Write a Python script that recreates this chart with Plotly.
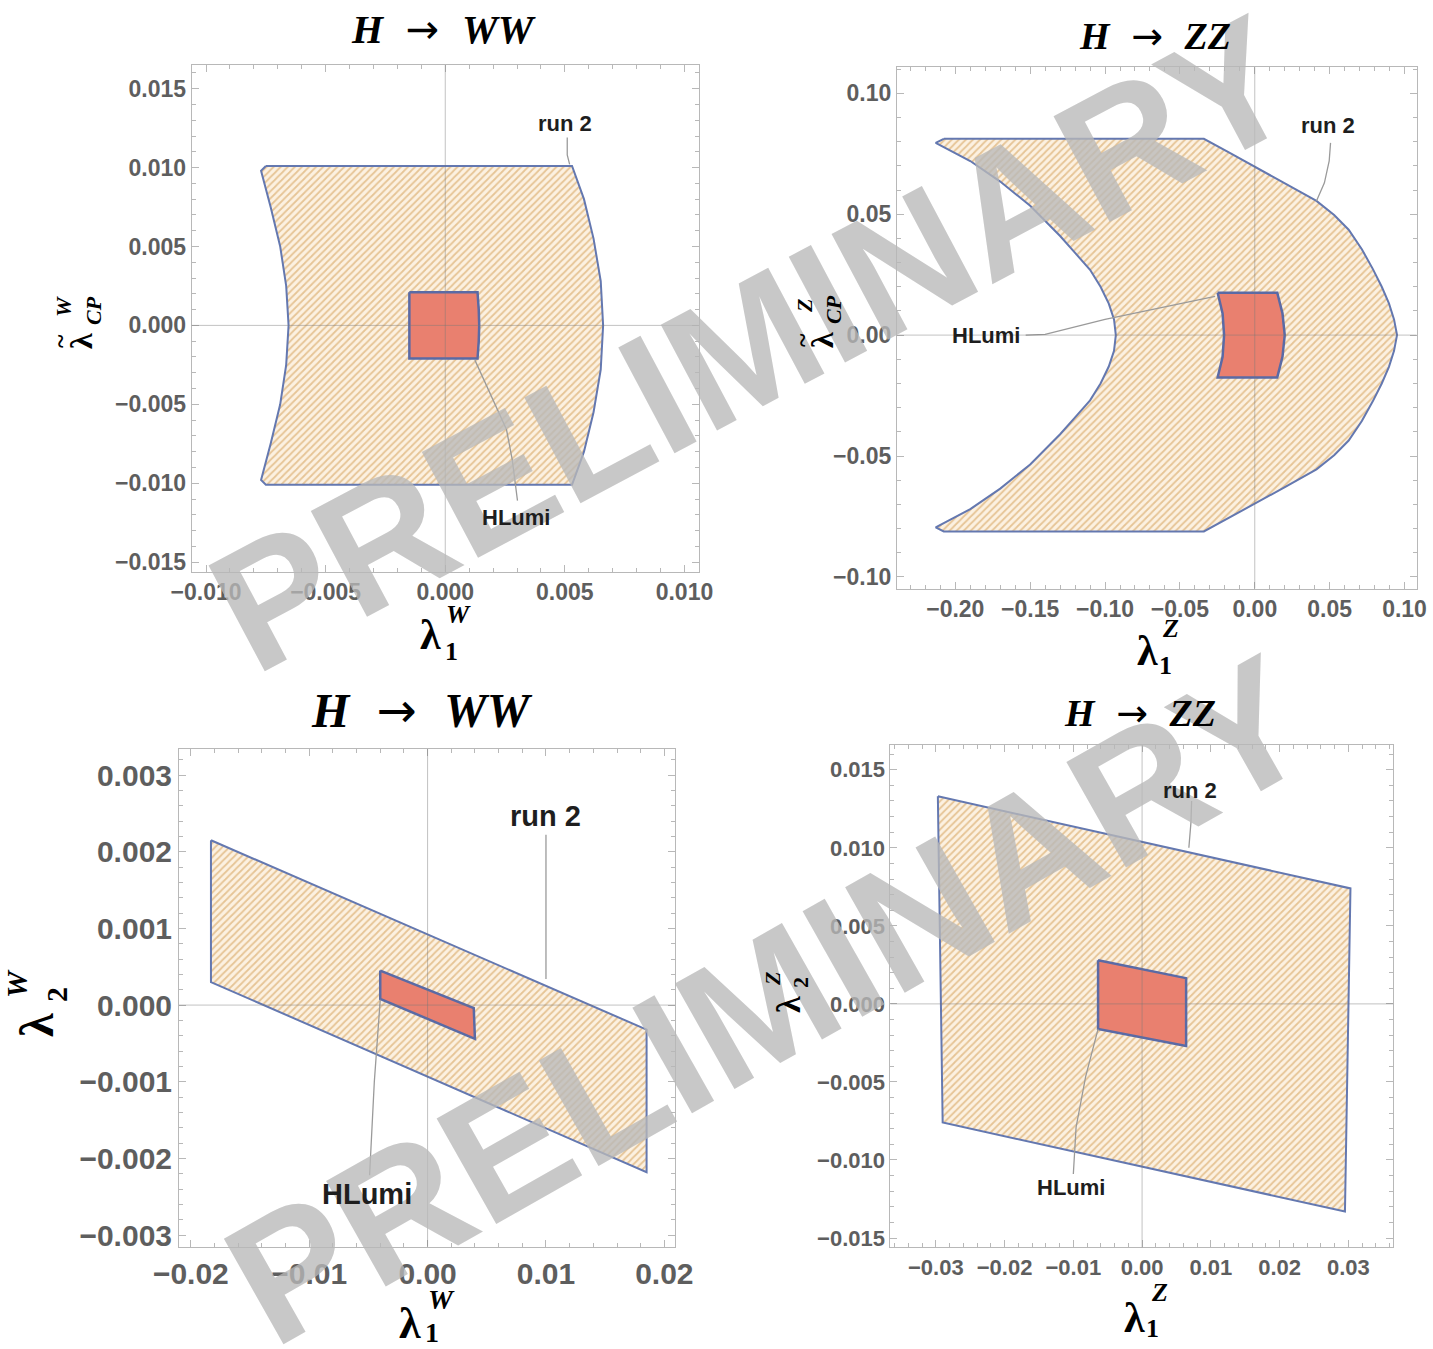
import plotly.graph_objects as go

FIG_W, FIG_H = 1433, 1349

# ---------------- data ----------------
# Panel 1: H -> WW, lambda1^W vs lambda~_CP^W
p1_run2_x = [-0.0075, 0.0053, 0.0058, 0.0062, 0.0065, 0.0066, 0.0065, 0.0062, 0.0058, 0.0053,
             -0.0075, -0.0077, -0.0073, -0.0069, -0.00665, -0.00655, -0.00665, -0.0069, -0.0073, -0.0077]
p1_run2_y = [0.0101, 0.0101, 0.0080, 0.0055, 0.0028, 0.0, -0.0028, -0.0055, -0.0080, -0.0101,
             -0.0101, -0.0098, -0.0075, -0.0050, -0.0025, 0.0, 0.0025, 0.0050, 0.0075, 0.0098]
p1_hl_x = [-0.0015, 0.00135, 0.0014, 0.00142, 0.0014, 0.00135, -0.0015]
p1_hl_y = [0.0021, 0.0021, 0.0010, 0.0, -0.0010, -0.0021, -0.0021]
p1_run2_lbl = (0.0050, 0.0128)
p1_run2_call_x = [0.0051, 0.0051, 0.0052]
p1_run2_call_y = [0.0119, 0.0108, 0.0102]
p1_hl_lbl = (0.00297, -0.0122)
p1_hl_call_x = [0.00124, 0.00182, 0.00256, 0.0028, 0.00302]
p1_hl_call_y = [-0.0022, -0.00412, -0.0066, -0.0085, -0.0111]

# Panel 2: H -> ZZ, lambda1^Z vs lambda~_CP^Z
p2_run2_x = [-0.2077, -0.034, -0.017, 0.0, 0.021, 0.0412, 0.053, 0.0627, 0.0715, 0.0788, 0.0848,
             0.0896, 0.093, 0.095,
             0.093, 0.0896, 0.0848, 0.0788, 0.0715, 0.0627, 0.053, 0.0412, 0.021, 0.0, -0.017,
             -0.034, -0.2077,
             -0.2131, -0.19, -0.17, -0.15, -0.13, -0.12, -0.110, -0.103, -0.0975, -0.094, -0.0928,
             -0.094, -0.0975, -0.103, -0.110, -0.12, -0.13, -0.15, -0.17, -0.19, -0.2131]
p2_run2_y = [0.0812, 0.0812, 0.0755, 0.0697, 0.0626, 0.0555, 0.0497, 0.0436, 0.0355, 0.0274, 0.0200,
             0.0131, 0.0065, 0.0,
             -0.0065, -0.0131, -0.0200, -0.0274, -0.0355, -0.0436, -0.0497, -0.0555, -0.0626, -0.0697,
             -0.0755, -0.0812, -0.0812,
             -0.0795, -0.072, -0.0635, -0.0535, -0.041, -0.034, -0.027, -0.020, -0.013, -0.0065, 0.0,
             0.0065, 0.013, 0.020, 0.027, 0.034, 0.041, 0.0535, 0.0635, 0.072, 0.0795]
p2_hl_x = [-0.0248, 0.0150, 0.0185, 0.0200, 0.0185, 0.0150, -0.0248, -0.0215, -0.0205, -0.0215]
p2_hl_y = [0.0175, 0.0175, 0.009, 0.0, -0.009, -0.0175, -0.0175, -0.009, 0.0, 0.009]
p2_run2_lbl = (0.0492, 0.0866)
p2_run2_call_x = [0.0506, 0.0497, 0.0465, 0.0412]
p2_run2_call_y = [0.0795, 0.0720, 0.0630, 0.0555]
p2_hl_lbl = (-0.1795, 0.0)
p2_hl_call_x = [-0.153, -0.140, -0.100, -0.060, -0.0265]
p2_hl_call_y = [0.0, 0.0003, 0.0065, 0.0115, 0.0160]

# Panel 3: H -> WW, lambda1^W vs lambda2^W
p3_run2_x = [-0.0183, 0.0185, 0.0185, -0.0183]
p3_run2_y = [0.00215, -0.00032, -0.00218, 0.0003]
p3_hl_x = [-0.0040, 0.0039, 0.0040, -0.0040]
p3_hl_y = [0.00045, -0.00004, -0.00044, 0.00008]
p3_run2_lbl = (0.0100, 0.00246)
p3_run2_call_x = [0.0100, 0.0100]
p3_run2_call_y = [0.00222, 0.00034]
p3_hl_lbl = (-0.0051, -0.00246)
p3_hl_call_x = [-0.0040, -0.0045, -0.0049]
p3_hl_call_y = [0.00007, -0.0010, -0.00222]

# Panel 4: H -> ZZ, lambda1^Z vs lambda2^Z
p4_run2_x = [-0.0297, 0.0303, 0.0295, -0.0290]
p4_run2_y = [0.0133, 0.0074, -0.0133, -0.0076]
p4_hl_x = [-0.0064, 0.0064, 0.0064, -0.0064]
p4_hl_y = [0.0028, 0.00165, -0.0027, -0.0016]
p4_run2_lbl = (0.0070, 0.0137)
p4_run2_call_x = [0.0072, 0.0071, 0.0068]
p4_run2_call_y = [0.0130, 0.0116, 0.0100]
p4_hl_lbl = (-0.0103, -0.01175)
p4_hl_call_x = [-0.0064, -0.0082, -0.0096, -0.0100]
p4_hl_call_y = [-0.0016, -0.00464, -0.0079, -0.0109]

# axis ticks
p1_xticks = [-0.010, -0.005, 0.0, 0.005, 0.010]
p1_yticks = [-0.015, -0.010, -0.005, 0.0, 0.005, 0.010, 0.015]
p2_xticks = [-0.20, -0.15, -0.10, -0.05, 0.0, 0.05, 0.10]
p2_yticks = [-0.10, -0.05, 0.0, 0.05, 0.10]
p3_xticks = [-0.02, -0.01, 0.0, 0.01, 0.02]
p3_yticks = [-0.003, -0.002, -0.001, 0.0, 0.001, 0.002, 0.003]
p4_xticks = [-0.03, -0.02, -0.01, 0.0, 0.01, 0.02, 0.03]
p4_yticks = [-0.015, -0.010, -0.005, 0.0, 0.005, 0.010, 0.015]

# ---------------- styling ----------------
RUN2_LINE = "#6478b0"
HL_FILL = "#e9806f"
HL_LINE = "#5a6aa5"
FRAME = "#b8b8b8"
TICKTXT = "#5e5e5e"
CALLOUT = "#9a9a9a"
SANS = "Liberation Sans"
SERIF = "Liberation Serif"
HATCH_BG = "#fcf1e1"
HATCH_FG = "#e6c495"


def px(xp):
    return xp / FIG_W


def py(yp):
    return 1 - yp / FIG_H


panels = [
    dict(box=(191.7, 65, 698.8, 571.6), xr=[-0.0106, 0.0106], yr=[-0.0156, 0.0165],
         xt=p1_xticks, yt=p1_yticks, xf=".3f", yf=".3f", xminor=0.001, yminor=0.001, fs=23,
         run2=(p1_run2_x, p1_run2_y), hl=(p1_hl_x, p1_hl_y),
         r2lbl=p1_run2_lbl, r2call=(p1_run2_call_x, p1_run2_call_y),
         hllbl=p1_hl_lbl, hlcall=(p1_hl_call_x, p1_hl_call_y), lfs=22),
    dict(box=(896.9, 67.2, 1416.5, 588.5), xr=[-0.239, 0.108], yr=[-0.1048, 0.1108],
         xt=p2_xticks, yt=p2_yticks, xf=".2f", yf=".2f", xminor=0.01, yminor=0.01, fs=23,
         run2=(p2_run2_x, p2_run2_y), hl=(p2_hl_x, p2_hl_y),
         r2lbl=p2_run2_lbl, r2call=(p2_run2_call_x, p2_run2_call_y),
         hllbl=p2_hl_lbl, hlcall=(p2_hl_call_x, p2_hl_call_y), lfs=22),
    dict(box=(179, 749, 675, 1246.6), xr=[-0.021, 0.0209], yr=[-0.00315, 0.00334],
         xt=p3_xticks, yt=p3_yticks, xf=".2f", yf=".3f", xminor=0.002, yminor=0.0002, fs=30,
         run2=(p3_run2_x, p3_run2_y), hl=(p3_hl_x, p3_hl_y),
         r2lbl=p3_run2_lbl, r2call=(p3_run2_call_x, p3_run2_call_y),
         hllbl=p3_hl_lbl, hlcall=(p3_hl_call_x, p3_hl_call_y), lfs=29),
    dict(box=(890.4, 744.8, 1393.1, 1247.4), xr=[-0.0366, 0.0365], yr=[-0.0156, 0.0166],
         xt=p4_xticks, yt=p4_yticks, xf=".2f", yf=".3f", xminor=0.002, yminor=0.001, fs=22,
         run2=(p4_run2_x, p4_run2_y), hl=(p4_hl_x, p4_hl_y),
         r2lbl=p4_run2_lbl, r2call=(p4_run2_call_x, p4_run2_call_y),
         hllbl=p4_hl_lbl, hlcall=(p4_hl_call_x, p4_hl_call_y), lfs=22),
]

fig = go.Figure()
layout = dict(template="none", width=FIG_W, height=FIG_H, autosize=False,
              margin=dict(l=0, r=0, t=0, b=0, pad=0, autoexpand=False),
              paper_bgcolor="white", plot_bgcolor="white", showlegend=False)
shapes = []
annotations = []

# watermark first so labels are drawn above it
for xc, yc, ang, sz in ((752, 343, -28, 174), (768, 1000, -29.5, 176)):
    annotations.append(dict(text="<b>PRELIMINARY</b>", x=px(xc), y=py(yc), xref="paper",
                            yref="paper", showarrow=False, xanchor="center", yanchor="middle",
                            textangle=ang,
                            font=dict(family=SANS, size=sz, color="rgba(185,185,185,0.78)")))

for i, p in enumerate(panels, start=1):
    l, t, r, b = p["box"]
    xa = "xaxis" if i == 1 else f"xaxis{i}"
    ya = "yaxis" if i == 1 else f"yaxis{i}"
    xref = "x" if i == 1 else f"x{i}"
    yref = "y" if i == 1 else f"y{i}"
    common = dict(showline=True, linecolor=FRAME, linewidth=1, mirror="allticks",
                  ticks="inside", ticklen=7, tickwidth=1, tickcolor=FRAME,
                  showgrid=False, zeroline=False, automargin=False,
                  tickfont=dict(family=SANS, size=p["fs"], color=TICKTXT, weight="bold"),
                  fixedrange=True)
    layout[xa] = dict(domain=[px(l), px(r)], anchor=yref, range=p["xr"],
                      tickvals=p["xt"], tickformat=p["xf"],
                      minor=dict(ticks="inside", ticklen=4, dtick=p["xminor"], tickcolor=FRAME,
                                 showgrid=False),
                      **common)
    layout[ya] = dict(domain=[py(b), py(t)], anchor=xref, range=p["yr"],
                      tickvals=p["yt"], tickformat=p["yf"],
                      minor=dict(ticks="inside", ticklen=4, dtick=p["yminor"], tickcolor=FRAME,
                                 showgrid=False),
                      **common)
    rx, ry = p["run2"]
    fig.add_trace(go.Scatter(x=rx + [rx[0]], y=ry + [ry[0]], xaxis=xref, yaxis=yref,
                             mode="lines", fill="toself", fillcolor=HATCH_BG,
                             fillpattern=dict(shape="/", bgcolor=HATCH_BG, fgcolor=HATCH_FG,
                                              size=5, solidity=0.35),
                             line=dict(color=RUN2_LINE, width=2), hoverinfo="skip"))
    hx, hy = p["hl"]
    fig.add_trace(go.Scatter(x=hx + [hx[0]], y=hy + [hy[0]], xaxis=xref, yaxis=yref,
                             mode="lines", fill="toself", fillcolor=HL_FILL,
                             line=dict(color=HL_LINE, width=2.5), hoverinfo="skip"))
    for cx, cy in (p["r2call"], p["hlcall"]):
        fig.add_trace(go.Scatter(x=cx, y=cy, xaxis=xref, yaxis=yref, mode="lines",
                                 line=dict(color=CALLOUT, width=1.3), hoverinfo="skip"))
    shapes.append(dict(type="line", xref=xref, yref=f"{yref} domain", x0=0, x1=0, y0=0, y1=1,
                       line=dict(color="rgba(120,120,120,0.45)", width=1), layer="above"))
    shapes.append(dict(type="line", xref=f"{xref} domain", yref=yref, x0=0, x1=1, y0=0, y1=0,
                       line=dict(color="rgba(120,120,120,0.45)", width=1), layer="above"))
    for txt, pos in (("run 2", p["r2lbl"]), ("HLumi", p["hllbl"])):
        annotations.append(dict(text=txt, x=pos[0], y=pos[1], xref=xref, yref=yref,
                                showarrow=False, xanchor="center", yanchor="middle",
                                font=dict(family=SANS, size=p["lfs"], color="#1e1e1e",
                                          weight="bold")))

NB = "\u00a0"


def title(xc, yc, letters, size):
    txt = (f"<b><i>H</i></b>{NB}<span style=\"font-family:DejaVu Sans\">{NB}→{NB}</span>"
           f"{NB}<b><i>{letters}</i></b>")
    annotations.append(dict(text=txt, x=px(xc), y=py(yc), xref="paper", yref="paper",
                            showarrow=False, xanchor="center", yanchor="middle",
                            font=dict(family=SERIF, size=size, color="black")))


title(443, 29, "WW", 40)
title(1155, 36, "ZZ", 38)
title(422, 710, "WW", 48)
title(1140, 713, "ZZ", 38)


def mlabel(xc, yc, main, sup, sub, size, ssize, sup_d, sub_d, vertical=False, tilde=None):
    """main symbol with stacked super/subscript; offsets in pixels (along, perp)."""
    ang = -90 if vertical else 0
    items = [(main, xc, yc, size)]
    for s, (along, perp) in ((sup, sup_d), (sub, sub_d)):
        if vertical:
            items.append((s, xc - perp, yc - along, ssize))
        else:
            items.append((s, xc + along, yc - perp, ssize))
    if tilde is not None:
        off, tsize = tilde
        if vertical:
            items.append(("~", xc - off, yc, tsize))
        else:
            items.append(("~", xc, yc - off, tsize))
    for s, sx, sy, sz in items:
        annotations.append(dict(text=s, x=px(sx), y=py(sy), xref="paper", yref="paper",
                                showarrow=False, xanchor="center", yanchor="middle",
                                textangle=ang,
                                font=dict(family=SERIF, size=sz, color="black",
                                          weight="bold")))


# x labels
mlabel(431, 635, "λ", "<i>W</i>", "1", 42, 26, (27, 21), (20, -16))
mlabel(1147, 651, "λ", "<i>Z</i>", "1", 42, 26, (23, 22), (18, -14))
mlabel(410, 1323, "λ", "<i>W</i>", "1", 44, 28, (31, 24), (22, -9))
mlabel(1134, 1318, "λ", "<i>Z</i>", "1", 42, 26, (25, 26), (18, -10))
# y labels (rotated)
mlabel(81, 341, "λ", "<i>W</i>", "<i>CP</i>", 32, 22, (34, 18), (30, -12), vertical=True,
       tilde=(20, 26))
mlabel(822, 340, "λ", "<i>Z</i>", "<i>CP</i>", 32, 22, (34, 18), (30, -12), vertical=True,
       tilde=(20, 26))
mlabel(36, 1025, "λ", "<i>W</i>", "2", 48, 30, (42, 20), (30, -20), vertical=True)
mlabel(788, 1005, "λ", "<i>Z</i>", "2", 34, 22, (26, 16), (22, -12), vertical=True)

layout["shapes"] = shapes
layout["annotations"] = annotations
fig.update_layout(**layout)
fig.write_html("out.html")
